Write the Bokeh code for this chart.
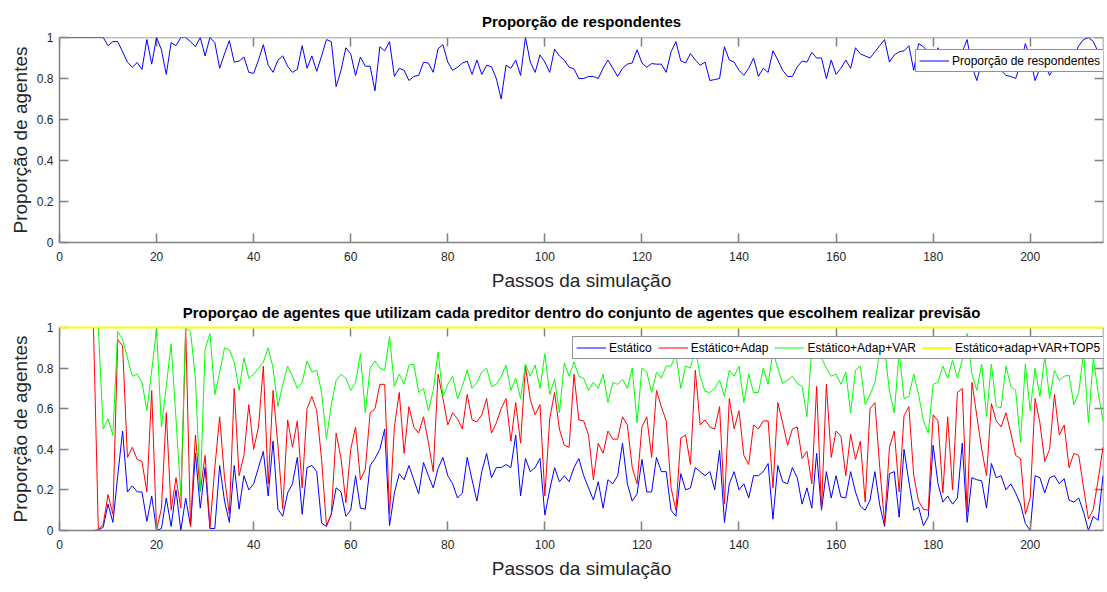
from bokeh.plotting import figure
from bokeh.models import (Range1d, LinearAxis, FixedTicker, Legend, LegendItem,
                          CustomLabelingPolicy)
from bokeh.layouts import column
from bokeh.embed import file_html
from bokeh.resources import INLINE

# ---------------- data ----------------
respondentes = [
    1.0, 1.0, 1.0, 1.0, 1.0, 1.0, 1.0, 1.0, 1.0, 1.0,
    0.96, 0.98, 0.98, 0.93, 0.88, 0.855, 0.878, 0.845, 0.99, 0.87,
    1.0, 0.94, 0.82, 0.975, 0.96, 1.0, 1.0, 0.98, 0.955, 1.0,
    0.91, 1.0, 0.975, 0.85, 0.92, 0.985, 0.88, 0.885, 0.905, 0.83,
    0.825, 0.89, 0.965, 0.865, 0.83, 0.89, 0.91, 0.86, 0.83, 0.845,
    0.96, 0.85, 0.91, 0.835, 0.91, 0.99, 0.98, 0.76, 0.84, 0.95,
    0.92, 0.815, 0.905, 0.86, 0.86, 0.74, 0.955, 0.935, 0.98, 0.81,
    0.85, 0.84, 0.79, 0.81, 0.815, 0.88, 0.875, 0.83, 0.945, 0.965,
    0.88, 0.84, 0.855, 0.875, 0.885, 0.82, 0.89, 0.82, 0.865, 0.857,
    0.80, 0.70, 0.865, 0.85, 0.89, 0.815, 1.0, 0.88, 0.83, 0.915,
    0.88, 0.83, 0.943, 0.91, 0.89, 0.855, 0.847, 0.80, 0.80, 0.81,
    0.81, 0.80, 0.85, 0.89, 0.85, 0.81, 0.85, 0.87, 0.876, 0.94,
    0.876, 0.855, 0.873, 0.87, 0.87, 0.83, 0.93, 0.98, 0.886, 0.876,
    0.922, 0.89, 0.865, 0.88, 0.79, 0.795, 0.80, 0.955, 0.89, 0.88,
    0.84, 0.816, 0.85, 0.90, 0.81, 0.85, 0.83, 0.935, 0.89, 0.84,
    0.81, 0.81, 0.857, 0.885, 0.88, 0.927, 0.90, 0.90, 0.80, 0.89,
    0.82, 0.85, 0.89, 0.85, 0.95, 0.92, 0.91, 0.90, 0.93, 0.96,
    0.99, 0.88, 0.915, 0.93, 0.935, 0.96, 0.84, 0.97, 0.955, 0.93,
    0.90, 0.95, 0.88, 0.92, 0.86, 0.90, 0.93, 0.99, 0.86, 0.79,
    0.88, 0.92, 0.87, 0.85, 0.84, 0.815, 0.81, 0.80, 0.87, 0.97,
    0.90, 0.79, 0.85, 0.87, 0.815, 0.86, 0.90, 0.88, 0.86, 0.91,
    0.96, 0.99, 1.0, 0.98, 0.93, 0.90,
]

estatico = [
    0.0, 0.0, 0.0, 0.0, 0.0, 0.0, 0.0, 0.0,
    0.003, 0.016, 0.13, 0.04, 0.27, 0.49, 0.19, 0.22, 0.19, 0.19, 0.045, 0.17,
    0.0, 0.01, 0.16, 0.02, 0.2, 0.0, 0.16, 0.02, 0.38, 0.11, 0.31,
    0.01, 0.01, 0.32, 0.145, 0.04, 0.32, 0.105, 0.27, 0.20, 0.23,
    0.31, 0.39, 0.17, 0.44, 0.105, 0.07, 0.185, 0.23, 0.36, 0.08,
    0.31, 0.32, 0.29, 0.037, 0.02, 0.08, 0.21, 0.19, 0.07, 0.10, 0.27,
    0.11, 0.105, 0.32, 0.355, 0.40, 0.50, 0.024, 0.185, 0.28, 0.25,
    0.32, 0.25, 0.18, 0.335, 0.27, 0.21, 0.305, 0.36, 0.27, 0.23,
    0.16, 0.185, 0.36, 0.25, 0.145, 0.29, 0.38, 0.26, 0.31, 0.31, 0.325,
    0.31, 0.47, 0.17, 0.355, 0.29, 0.31, 0.355, 0.076, 0.20, 0.31,
    0.24, 0.27, 0.24, 0.31, 0.355, 0.27, 0.21, 0.15, 0.24, 0.11,
    0.25, 0.23, 0.27, 0.43, 0.23, 0.145, 0.18, 0.35, 0.19, 0.19, 0.36, 0.29,
    0.29, 0.10, 0.07, 0.28, 0.20, 0.21, 0.31, 0.29, 0.27, 0.29,
    0.20, 0.395, 0.04, 0.23, 0.29, 0.20, 0.23, 0.16, 0.27, 0.27,
    0.29, 0.33, 0.056, 0.32, 0.24, 0.23, 0.31, 0.26, 0.13, 0.21, 0.11, 0.38,
    0.10, 0.29, 0.16, 0.27, 0.165, 0.16, 0.29, 0.19, 0.12, 0.10,
    0.15, 0.29, 0.125, 0.02, 0.28, 0.29, 0.065, 0.40, 0.24, 0.10,
    0.115, 0.024, 0.068, 0.42, 0.23, 0.14, 0.17, 0.13, 0.16, 0.43,
    0.04, 0.26, 0.25, 0.245, 0.11, 0.33, 0.26, 0.27, 0.20, 0.23,
    0.185, 0.13, 0.035, 0.0, 0.27, 0.26, 0.185, 0.26, 0.27, 0.23,
    0.255, 0.15, 0.14, 0.16, 0.09, 0.0, 0.07, 0.05, 0.27,
]

estatico_adap = [
    1.0, 1.0, 1.0, 1.0, 1.0, 1.0, 1.0, 1.0,
    0.005, 0.03, 0.177, 0.08, 0.94, 0.91, 0.36, 0.41, 0.35, 0.34, 0.19, 0.69,
    0.0, 0.11, 0.58, 0.1, 0.26, 0.11, 0.997, 0.02, 0.47, 0.19, 0.37,
    0.016, 0.31, 0.56, 0.26, 0.08, 0.70, 0.27, 0.37, 0.62, 0.40,
    0.51, 0.81, 0.23, 0.69, 0.42, 0.105, 0.545, 0.41, 0.54, 0.21,
    0.60, 0.66, 0.59, 0.35, 0.024, 0.08, 0.48, 0.355, 0.137, 0.40, 0.51,
    0.25, 0.30, 0.58, 0.60, 0.72, 0.72, 0.08, 0.51, 0.68, 0.38,
    0.61, 0.51, 0.48, 0.56, 0.435, 0.29, 0.77, 0.65, 0.52, 0.58,
    0.55, 0.50, 0.67, 0.545, 0.535, 0.57, 0.65, 0.48, 0.53, 0.60, 0.65,
    0.44, 0.63, 0.43, 0.81, 0.645, 0.57, 0.62, 0.17, 0.55, 0.68,
    0.50, 0.42, 0.41, 0.77, 0.545, 0.54, 0.47, 0.25, 0.43, 0.38,
    0.49, 0.45, 0.45, 0.56, 0.52, 0.31, 0.23, 0.51, 0.56, 0.36, 0.69, 0.61,
    0.54, 0.21, 0.10, 0.455, 0.47, 0.325, 0.79, 0.52, 0.545, 0.51,
    0.50, 0.61, 0.13, 0.65, 0.50, 0.59, 0.37, 0.325, 0.52, 0.50,
    0.54, 0.54, 0.21, 0.63, 0.53, 0.42, 0.50, 0.51, 0.355, 0.39, 0.23, 0.71,
    0.10, 0.72, 0.36, 0.49, 0.465, 0.27, 0.475, 0.35, 0.44, 0.14,
    0.60, 0.63, 0.31, 0.035, 0.41, 0.49, 0.19, 0.565, 0.61, 0.27,
    0.145, 0.105, 0.10, 0.57, 0.54, 0.185, 0.56, 0.20, 0.68, 0.70,
    0.09, 0.73, 0.565, 0.40, 0.27, 0.625, 0.54, 0.51, 0.58, 0.48,
    0.37, 0.355, 0.08, 0.16, 0.65, 0.53, 0.34, 0.40, 0.67, 0.47,
    0.52, 0.31, 0.38, 0.37, 0.21, 0.056, 0.105, 0.25, 0.41,
]

estatico_adap_var = [
    1.0, 1.0, 1.0, 1.0, 1.0, 1.0, 1.0, 1.0, 1.0,
    0.5, 0.55, 0.47, 0.98, 0.94, 0.85, 0.76, 0.77, 0.73, 0.59, 0.79,
    0.99, 0.51, 0.71, 0.92, 0.55, 0.17, 1.0, 0.98, 0.75, 0.19, 0.895,
    0.97, 0.67, 0.78, 0.90, 0.89, 0.83, 0.69, 0.85, 0.75, 0.77,
    0.80, 0.83, 0.90, 0.80, 0.61, 0.72, 0.81, 0.76, 0.70, 0.73,
    0.835, 0.78, 0.79, 0.68, 0.45, 0.62, 0.74, 0.77, 0.75, 0.69, 0.73,
    0.87, 0.58, 0.80, 0.835, 0.80, 0.79, 0.955, 0.71, 0.77, 0.72,
    0.815, 0.82, 0.68, 0.70, 0.59, 0.69, 0.88, 0.66, 0.72, 0.76,
    0.65, 0.71, 0.79, 0.70, 0.73, 0.78, 0.80, 0.71, 0.72, 0.76, 0.815,
    0.69, 0.75, 0.65, 0.82, 0.76, 0.815, 0.70, 0.87, 0.67, 0.745,
    0.58, 0.826, 0.76, 0.83, 0.76, 0.75, 0.69, 0.73, 0.70, 0.77,
    0.63, 0.73, 0.72, 0.745, 0.70, 0.80, 0.53, 0.80, 0.78, 0.68, 0.78, 0.75,
    0.81, 0.81, 0.87, 0.70, 0.81, 0.80, 0.90, 0.76, 0.685, 0.68,
    0.70, 0.74, 0.66, 0.79, 0.76, 0.81, 0.63, 0.77, 0.68, 0.68,
    0.80, 0.72, 0.88, 0.80, 0.725, 0.74, 0.76, 0.725, 0.71, 0.56, 0.90, 0.90,
    0.85, 0.80, 0.76, 0.77, 0.72, 0.78, 0.58, 0.79, 0.81, 0.62,
    0.67, 0.73, 0.88, 0.90, 0.685, 0.58, 0.88, 0.65, 0.66, 0.77,
    0.67, 0.54, 0.48, 0.72, 0.73, 0.81, 0.75, 0.84, 0.75, 0.84,
    0.97, 0.77, 0.69, 0.82, 0.56, 0.82, 0.61, 0.605, 0.81, 0.71,
    0.69, 0.435, 0.82, 0.59, 0.80, 0.66, 0.86, 0.65, 0.79, 0.74,
    0.76, 0.765, 0.62, 0.68, 0.88, 0.53, 0.85, 0.68, 0.54,
]

estatico_adap_var_top5 = [
    1, 1, 1, 1, 1, 1, 1, 1, 1, 1, 1, 1, 1, 1, 1, 1, 1, 1, 1, 1, 1, 1, 1, 1,
    1, 1, 1, 1, 1, 1, 1, 1, 1, 1, 1, 1, 1, 1, 1, 1, 1, 1, 1, 1, 1, 1, 1, 1,
    1, 1, 1, 1, 1, 1, 1, 1, 1, 1, 1, 1, 1, 1, 1, 1, 1, 1, 1, 1, 1, 1, 1, 1,
    1, 1, 1, 1, 1, 1, 1, 1, 1, 1, 1, 1, 1, 1, 1, 1, 1, 1, 1, 1, 1, 1, 1, 1,
    1, 1, 1, 1, 1, 1, 1, 1, 1, 1, 1, 1, 1, 1, 1, 1, 1, 1, 1, 1, 1, 1, 1, 1,
    1, 1, 1, 1, 1, 1, 1, 1, 1, 1, 1, 1, 1, 1, 1, 1, 1, 1, 1, 1, 1, 1, 1, 1,
    1, 1, 1, 1, 1, 1, 1, 1, 1, 1, 1, 1, 1, 1, 1, 1, 1, 1, 1, 1, 1, 1, 1, 1,
    1, 1, 1, 1, 1, 1, 1, 1, 1, 1, 1, 1, 1, 1, 1, 1, 1, 1, 1, 1, 1, 1, 1, 1,
    1, 1, 1, 1, 1, 1, 1, 1, 1, 1, 1, 1, 1, 1, 1, 1, 1, 1, 1, 1, 1, 1, 1, 1,
]

x_ticks = [0, 20, 40, 60, 80, 100, 120, 140, 160, 180, 200]
y_ticks = [0, 0.2, 0.4, 0.6, 0.8, 1]
y_tick_labels = ["0", "0.2", "0.4", "0.6", "0.8", "1"]

title_top = "Proporção de respondentes"
title_bottom = ("Proporçao de agentes que utilizam cada preditor dentro do "
                "conjunto de agentes que escolhem realizar previsão")
x_label = "Passos da simulação"
y_label = "Proporção de agentes"
legend_top = ["Proporção de respondentes"]
legend_bottom = ["Estático", "Estático+Adap", "Estático+Adap+VAR", "Estático+adap+VAR+TOP5"]

# ---------------- style ----------------
FONT = "Liberation Sans"
AXIS_GRAY = "#808080"
TEXT = "#262626"
X_MAX = 215.1
NO_LABELS = "for (const i of indices) { indices.unset(i) }\nreturn indices"


def make_fig(height, top, bottom, title, title_standoff, top_line=True):
    p = figure(width=1107, height=height, output_backend="svg", toolbar_location=None,
               x_range=Range1d(0, X_MAX), y_range=Range1d(0, 1),
               min_border_left=59, min_border_right=1,
               min_border_top=top, min_border_bottom=bottom)
    p.outline_line_color = None
    p.xgrid.visible = False
    p.ygrid.visible = False
    p.background_fill_color = "white"
    p.title.text = title
    p.title.align = "center"
    p.title.text_font = FONT
    p.title.text_font_size = "15px"
    p.title.text_font_style = "bold"
    p.title.text_color = "#000000"
    p.title.standoff = title_standoff

    xa = p.xaxis[0]
    xa.ticker = FixedTicker(ticks=x_ticks)
    ya = p.yaxis[0]
    ya.ticker = FixedTicker(ticks=y_ticks)
    ya.major_label_overrides = {t: s for t, s in zip(y_ticks, y_tick_labels)}
    for ax in (xa, ya):
        ax.axis_line_color = AXIS_GRAY
        ax.axis_line_width = 1.5
        ax.major_tick_line_color = AXIS_GRAY
        ax.major_tick_line_width = 1.5
        ax.major_tick_in = 9
        ax.major_tick_out = 0
        ax.minor_tick_line_color = None
        ax.major_label_text_font = FONT
        ax.major_label_text_font_size = "12px"
        ax.major_label_text_color = TEXT
        ax.axis_label_text_font = FONT
        ax.axis_label_text_font_size = "19px"
        ax.axis_label_text_font_style = "normal"
        ax.axis_label_text_color = TEXT
    xa.axis_label = x_label
    xa.major_label_standoff = 9
    xa.axis_label_standoff = 6
    ya.axis_label = y_label
    ya.major_label_standoff = 6
    ya.axis_label_standoff = 3

    for place, ticks in (("above", x_ticks), ("right", y_ticks)):
        line_col = AXIS_GRAY if (place == "right" or top_line) else None
        ax = LinearAxis(ticker=FixedTicker(ticks=ticks),
                        major_label_policy=CustomLabelingPolicy(code=NO_LABELS),
                        major_label_text_font_size="1px", major_label_standoff=0,
                        axis_line_color=line_col, axis_line_width=1.5,
                        major_tick_line_color=AXIS_GRAY, major_tick_line_width=1.5,
                        major_tick_in=9, major_tick_out=0,
                        minor_tick_line_color=None, level="underlay")
        p.add_layout(ax, place)
    return p


def style_legend(lg):
    lg.border_line_color = TEXT
    lg.border_line_width = 1
    lg.background_fill_color = "white"
    lg.background_fill_alpha = 1
    lg.label_text_font = FONT
    lg.label_text_font_size = "12px"
    lg.label_text_color = "#000000"
    lg.glyph_width = 30
    lg.glyph_height = 15
    lg.label_height = 15
    lg.label_standoff = 3
    lg.padding = 3
    lg.spacing = 6
    lg.margin = 0


# ---------------- top chart ----------------
p1 = make_fig(298, 37, 56, title_top, 7)
steps_top = list(range(len(respondentes)))
r_top = p1.line(steps_top, respondentes, line_color="#0000ff", line_width=1.0)
leg1 = Legend(items=[LegendItem(label=legend_top[0], renderers=[r_top])], location=(856, 170))
style_legend(leg1)
p1.add_layout(leg1)

# ---------------- bottom chart ----------------
p2 = make_fig(292, 25, 60, title_bottom, 6, top_line=False)
series = [estatico, estatico_adap, estatico_adap_var, estatico_adap_var_top5]
colors = ["#0000ff", "#ff0000", "#00ff00", "#ffff00"]
items = []
for vals, col, lab in zip(series, colors, legend_bottom):
    lw = 2.0 if col == "#ffff00" else 1.0
    r = p2.line(list(range(len(vals))), vals, line_color=col, line_width=lw)
    if col == "#ffff00":
        r.level = "overlay"
    items.append(LegendItem(label=lab, renderers=[r]))
leg2 = Legend(items=items, orientation="horizontal", location=(513, 171))
style_legend(leg2)
p2.add_layout(leg2)

layout = column(p1, p2, spacing=0)
open("out.html", "w").write(file_html(layout, INLINE))
